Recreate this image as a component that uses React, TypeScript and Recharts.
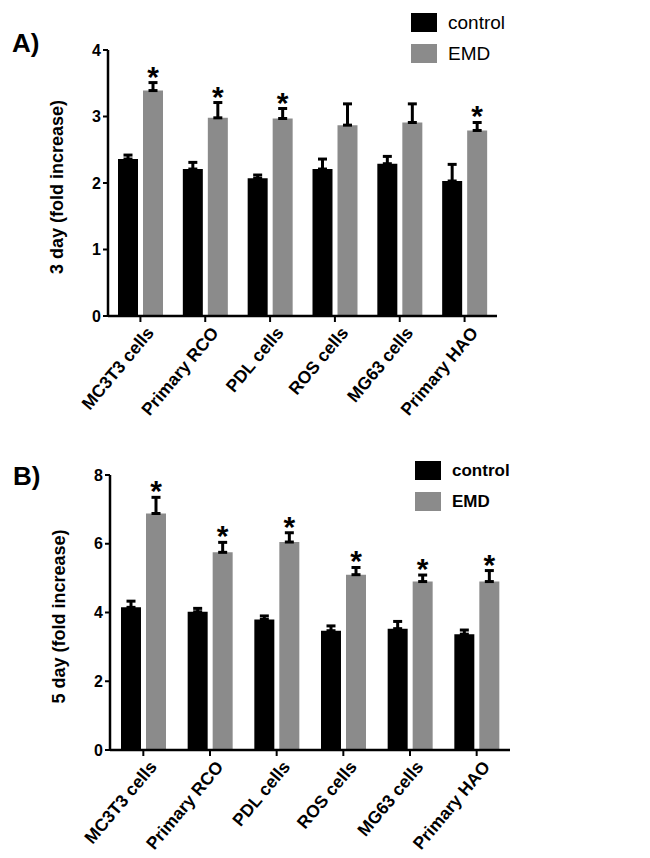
import React from 'react';
import { BarChart, Bar, XAxis, YAxis, ErrorBar, LabelList, Legend, Label } from 'recharts';

const categories = ['MC3T3 cells', 'Primary RCO', 'PDL cells', 'ROS cells', 'MG63 cells', 'Primary HAO'];

const controlA = [2.36, 2.21, 2.07, 2.21, 2.29, 2.03];
const controlAErr = [0.06, 0.1, 0.05, 0.15, 0.11, 0.25];
const emdA = [3.39, 2.98, 2.97, 2.87, 2.91, 2.79];
const emdAErr = [0.12, 0.23, 0.15, 0.32, 0.28, 0.12];
const sigA = [true, true, true, false, false, true];
const ticksA = [0, 1, 2, 3, 4];

const controlB = [4.15, 4.02, 3.8, 3.47, 3.53, 3.37];
const controlBErr = [0.18, 0.1, 0.1, 0.14, 0.21, 0.12];
const emdB = [6.88, 5.75, 6.05, 5.1, 4.9, 4.9];
const emdBErr = [0.47, 0.29, 0.27, 0.21, 0.19, 0.32];
const sigB = [true, true, true, true, true, true];
const ticksB = [0, 2, 4, 6, 8];

const seriesOrder = ['control', 'EMD'];

const build = (ctrl: number[], ctrlErr: number[], emd: number[], emdErr: number[], sig: boolean[]) =>
  categories.map((name, i) => ({
    name,
    control: ctrl[i],
    controlErr: [0, ctrlErr[i]],
    EMD: emd[i],
    emdErr: [0, emdErr[i]],
    emdTop: emd[i] + emdErr[i],
    sig: sig[i],
  }));

const dataA = build(controlA, controlAErr, emdA, emdAErr, sigA);
const dataB = build(controlB, controlBErr, emdB, emdBErr, sigB);

const FONT = '"Liberation Sans", Arial, Helvetica, sans-serif';
const EMD_COLOR = '#8b8b8b';

const XTick = (props: any) => {
  const { x, y, payload } = props;
  return (
    <g transform={`translate(${x},${y})`}>
      <text
        x={2}
        y={0}
        dy={17}
        textAnchor="end"
        transform="rotate(-50)"
        fontFamily={FONT}
        fontWeight="bold"
        fontSize={17.5}
        fill="#000"
      >
        {payload.value}
      </text>
    </g>
  );
};

const makeStar = (data: any[]) => (p: any) => {
  const d = data[p.index];
  if (!d || !d.sig) return null;
  const h = Number(p.height);
  const ppu = h / d.EMD;
  const top = Number(p.y) + h - d.emdTop * ppu;
  return (
    <text
      x={Number(p.x) + Number(p.width) / 2}
      y={top + 4}
      textAnchor="middle"
      fontFamily={FONT}
      fontWeight="bold"
      fontSize={30}
      fill="#000"
    >
      *
    </text>
  );
};

const makeLegend = (fontSize: number, bold: boolean) => (props: any) => {
  const items = [...(props.payload || [])].sort(
    (a: any, b: any) => seriesOrder.indexOf(a.value) - seriesOrder.indexOf(b.value)
  );
  return (
    <div style={{ fontFamily: FONT }}>
      {items.map((it: any, i: number) => (
        <div key={i} style={{ display: 'flex', alignItems: 'center', height: 31 }}>
          <div style={{ width: 26, height: 19, background: it.color, marginRight: 11 }} />
          <span style={{ fontSize, fontWeight: bold ? 'bold' : 'normal', color: '#000', lineHeight: '19px' }}>
            {it.value}
          </span>
        </div>
      ))}
    </div>
  );
};

const YLabel = (text: string) => (props: any) => {
  const vb = props.viewBox || {};
  const cx = vb.x - 5;
  const cy = vb.y + vb.height / 2 + 4;
  return (
    <text
      transform={`translate(${cx},${cy}) rotate(-90)`}
      textAnchor="middle"
      fontFamily={FONT}
      fontWeight="bold"
      fontSize={18}
      fill="#000"
    >
      {text}
    </text>
  );
};

const Panel = (props: {
  data: any[];
  ticks: number[];
  max: number;
  height: number;
  margin: any;
  ylabel: string;
  legendPos: any;
  legendFont: number;
  legendBold: boolean;
}) => {
  const { data, ticks, max, height, margin, ylabel, legendPos, legendFont, legendBold } = props;
  return (
    <BarChart width={650} height={height} data={data} margin={margin} barSize={20} barGap={5}>
      <XAxis
        dataKey="name"
        height={90}
        tick={<XTick />}
        interval={0}
        axisLine={{ stroke: '#000', strokeWidth: 2.5 }}
        tickLine={{ stroke: '#000', strokeWidth: 2 }}
        tickSize={6}
      />
      <YAxis
        width={40}
        domain={[0, max]}
        ticks={ticks}
        interval={0}
        axisLine={{ stroke: '#000', strokeWidth: 2.5 }}
        tickLine={{ stroke: '#000', strokeWidth: 2 }}
        tickSize={5}
        tickMargin={2}
        tick={{ fontFamily: FONT, fontWeight: 'bold', fontSize: 16, fill: '#000' }}
      >
        <Label content={YLabel(ylabel)} />
      </YAxis>
      <Legend
        layout="vertical"
        align="center"
        verticalAlign="middle"
        content={makeLegend(legendFont, legendBold)}
        wrapperStyle={{ ...legendPos, width: 140 }}
      />
      <Bar dataKey="control" name="control" fill="#000" isAnimationActive={false}>
        <ErrorBar dataKey="controlErr" direction="y" width={4.5} stroke="#000" strokeWidth={3} />
      </Bar>
      <Bar dataKey="EMD" name="EMD" fill={EMD_COLOR} isAnimationActive={false}>
        <ErrorBar dataKey="emdErr" direction="y" width={4.5} stroke="#000" strokeWidth={3} />
        <LabelList dataKey="emdTop" content={makeStar(data)} />
      </Bar>
    </BarChart>
  );
};

export default function App() {
  return (
    <div style={{ position: 'absolute', left: 0, top: 0, width: 650, height: 858, background: '#fff', fontFamily: FONT }}>
      <div style={{ position: 'absolute', left: 12, top: 28, fontSize: 26, fontWeight: 'bold' }}>A)</div>
      <div style={{ position: 'absolute', left: 13, top: 461, fontSize: 26, fontWeight: 'bold' }}>B)</div>
      <div style={{ position: 'absolute', left: 0, top: 0 }}>
        <Panel
          data={dataA}
          ticks={ticksA}
          max={4}
          height={420}
          margin={{ top: 50, right: 153, bottom: 14, left: 68 }}
          ylabel="3 day (fold increase)"
          legendPos={{ top: 7, left: 411 }}
          legendFont={19}
          legendBold={false}
        />
      </div>
      <div style={{ position: 'absolute', left: 0, top: 420 }}>
        <Panel
          data={dataB}
          ticks={ticksB}
          max={8}
          height={438}
          margin={{ top: 55, right: 140, bottom: 18, left: 70 }}
          ylabel="5 day (fold increase)"
          legendPos={{ top: 35, left: 415 }}
          legendFont={17}
          legendBold={true}
        />
      </div>
    </div>
  );
}
